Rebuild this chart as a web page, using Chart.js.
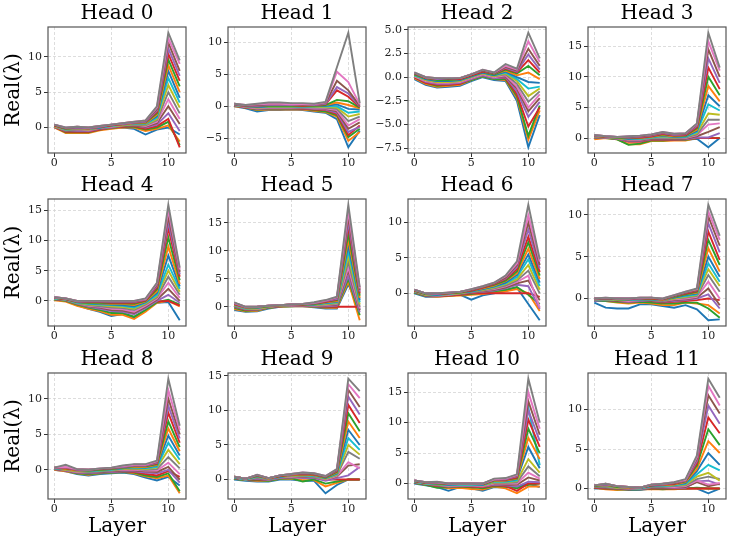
<!DOCTYPE html>
<html>
<head>
<meta charset="utf-8">
<script src="https://cdn.jsdelivr.net/npm/chart.js@4"></script>
<style>
  body { margin: 0; background: #fff; }
  #fig { position: relative; width: 731px; height: 546px; overflow: hidden; background: #fff; }
  #fig canvas { position: absolute; }
</style>
</head>
<body>
<div id="fig"></div>
<script>
'use strict'

// x values (layer index) and tick lists
const layers = [0, 1, 2, 3, 4, 5, 6, 7, 8, 9, 10, 11]
const xTicks = [0, 5, 10]
const headTitles = ['Head 0', 'Head 1', 'Head 2', 'Head 3', 'Head 4', 'Head 5',
  'Head 6', 'Head 7', 'Head 8', 'Head 9', 'Head 10', 'Head 11']
const yTicks = [
  [0, 5, 10], [-5, 0, 5, 10], [-7.5, -5, -2.5, 0, 2.5, 5], [0, 5, 10, 15],
  [0, 5, 10, 15], [0, 5, 10, 15], [0, 5, 10], [0, 5, 10],
  [0, 5, 10], [0, 5, 10, 15], [0, 5, 10, 15], [0, 5, 10]
]
const yTickDigits = [0, 0, 1, 0, 0, 0, 0, 0, 0, 0, 0, 0]

// Real(lambda) per eigenvalue line, one array of 12 layers each
const head0 = [
  [0.0, -0.6, -0.7, -0.6, -0.3, -0.1, 0.0, -0.2, -1.0, -0.3, 0.0, -1.0],
  [0.0, -0.8, -0.8, -0.8, -0.4, -0.2, 0.0, 0.0, -0.5, -0.2, 0.3, -2.0],
  [0.1, -0.7, -0.7, -0.7, -0.3, -0.1, 0.1, 0.1, -0.3, 0.0, 0.8, -2.5],
  [0.1, -0.6, -0.6, -0.6, -0.3, 0.0, 0.1, 0.2, -0.2, 0.2, 1.2, -2.8],
  [0.1, -0.5, -0.5, -0.5, -0.2, 0.0, 0.2, 0.3, 0.0, 0.4, 2.0, -0.5],
  [0.2, -0.5, -0.4, -0.4, -0.2, 0.1, 0.2, 0.3, 0.1, 0.6, 3.0, 0.5],
  [0.2, -0.4, -0.3, -0.4, -0.1, 0.1, 0.3, 0.4, 0.2, 0.8, 4.0, 1.2],
  [0.2, -0.4, -0.3, -0.3, -0.1, 0.2, 0.3, 0.4, 0.3, 1.0, 5.0, 2.0],
  [0.2, -0.3, -0.2, -0.3, 0.0, 0.2, 0.3, 0.5, 0.4, 1.2, 6.0, 2.8],
  [0.3, -0.3, -0.2, -0.2, 0.0, 0.2, 0.4, 0.5, 0.5, 1.4, 7.0, 3.5],
  [0.3, -0.2, -0.1, -0.2, 0.0, 0.3, 0.4, 0.6, 0.6, 1.6, 8.0, 4.2],
  [0.3, -0.2, -0.1, -0.2, 0.1, 0.3, 0.4, 0.6, 0.6, 1.8, 8.8, 5.0],
  [0.3, -0.2, 0.0, -0.1, 0.1, 0.3, 0.5, 0.7, 0.7, 2.0, 9.6, 5.8],
  [0.3, -0.1, 0.0, -0.1, 0.1, 0.3, 0.5, 0.7, 0.8, 2.2, 10.4, 6.6],
  [0.4, -0.1, 0.0, -0.1, 0.1, 0.4, 0.5, 0.7, 0.8, 2.4, 11.2, 7.3],
  [0.4, -0.1, 0.1, 0.0, 0.2, 0.4, 0.6, 0.8, 0.9, 2.6, 12.0, 8.0],
  [0.4, 0.0, 0.1, 0.0, 0.2, 0.4, 0.6, 0.8, 1.0, 2.8, 12.6, 9.0],
  [0.4, 0.0, 0.1, 0.0, 0.2, 0.4, 0.6, 0.8, 1.0, 3.0, 13.4, 9.5]
]
const head1 = [
  [0.0, -0.3, -0.8, -0.6, -0.6, -0.5, -0.6, -0.8, -1.0, -2.0, -6.4, -3.8],
  [0.0, -0.2, -0.6, -0.5, -0.5, -0.5, -0.5, -0.7, -0.9, -1.6, -5.4, -4.0],
  [0.1, -0.2, -0.5, -0.4, -0.4, -0.4, -0.4, -0.6, -0.8, -1.4, -4.8, -3.5],
  [0.1, -0.2, -0.4, -0.3, -0.3, -0.3, -0.4, -0.5, -0.6, -1.2, -4.5, -3.0],
  [0.1, -0.1, -0.4, -0.3, -0.3, -0.3, -0.3, -0.4, -0.5, -1.0, -4.0, -3.2],
  [0.1, -0.1, -0.3, -0.2, -0.2, -0.2, -0.3, -0.3, -0.4, -0.8, -3.5, -2.5],
  [0.2, -0.1, -0.3, -0.2, -0.2, -0.2, -0.2, -0.3, -0.3, -0.6, -3.0, -2.0],
  [0.2, 0.0, -0.2, -0.1, -0.1, -0.1, -0.2, -0.2, -0.2, -0.4, -2.3, -1.6],
  [0.2, 0.0, -0.2, -0.1, -0.1, -0.1, -0.1, -0.1, -0.1, -0.2, -1.6, -1.2],
  [0.2, 0.0, -0.1, 0.0, 0.0, 0.0, -0.1, 0.0, 0.0, 0.0, -1.0, -0.8],
  [0.3, 0.0, -0.1, 0.0, 0.0, 0.0, 0.0, 0.0, 0.1, 0.3, -0.4, -0.5],
  [0.3, 0.0, 0.0, 0.1, 0.1, 0.1, 0.0, 0.1, 0.2, 0.6, 0.2, -0.3],
  [0.3, 0.1, 0.0, 0.1, 0.1, 0.1, 0.1, 0.1, 0.2, 1.0, 0.8, -0.2],
  [0.3, 0.1, 0.1, 0.2, 0.2, 0.2, 0.1, 0.2, 0.3, 2.5, 1.5, -0.1],
  [0.3, 0.1, 0.1, 0.2, 0.2, 0.2, 0.2, 0.2, 0.4, 3.0, 2.0, 0.0],
  [0.4, 0.1, 0.2, 0.3, 0.3, 0.3, 0.2, 0.3, 0.5, 4.0, 2.5, 0.1],
  [0.4, 0.2, 0.3, 0.4, 0.4, 0.3, 0.3, 0.3, 0.6, 5.4, 3.8, 0.3],
  [0.4, 0.2, 0.4, 0.6, 0.6, 0.5, 0.5, 0.4, 0.7, 6.1, 11.5, 0.5]
]
const head2 = [
  [-0.2, -0.8, -1.1, -1.0, -0.9, -0.4, 0.0, -0.3, -0.4, -2.5, -7.4, -4.0],
  [-0.1, -0.7, -1.0, -0.9, -0.8, -0.3, 0.1, -0.2, -0.3, -2.2, -6.6, -3.5],
  [0.0, -0.6, -0.9, -0.8, -0.7, -0.3, 0.1, -0.2, -0.2, -2.0, -6.2, -3.0],
  [0.0, -0.6, -0.8, -0.8, -0.7, -0.2, 0.2, -0.1, -0.1, -1.8, -5.2, -3.2],
  [0.1, -0.5, -0.7, -0.7, -0.6, -0.2, 0.2, -0.1, 0.0, -1.5, -4.2, -2.6],
  [0.1, -0.4, -0.6, -0.6, -0.5, -0.1, 0.3, 0.0, 0.1, -1.2, -3.6, -2.2],
  [0.1, -0.4, -0.6, -0.6, -0.5, -0.1, 0.3, 0.0, 0.2, -1.0, -3.2, -1.8],
  [0.2, -0.3, -0.5, -0.5, -0.4, 0.0, 0.4, 0.1, 0.3, -0.7, -2.6, -1.5],
  [0.2, -0.3, -0.5, -0.5, -0.4, 0.0, 0.4, 0.1, 0.4, -0.4, -2.0, -1.2],
  [0.2, -0.2, -0.4, -0.4, -0.3, 0.1, 0.5, 0.2, 0.5, -0.2, -1.2, -1.0],
  [0.3, -0.2, -0.4, -0.4, -0.3, 0.1, 0.5, 0.2, 0.6, 0.0, -0.5, -0.6],
  [0.3, -0.1, -0.3, -0.3, -0.2, 0.2, 0.6, 0.3, 0.7, 0.2, 0.5, -0.2],
  [0.3, -0.1, -0.3, -0.3, -0.2, 0.2, 0.6, 0.3, 0.8, 0.4, 1.2, 0.2],
  [0.4, -0.1, -0.2, -0.2, -0.2, 0.2, 0.6, 0.4, 0.9, 0.5, 1.8, 0.5],
  [0.4, 0.0, -0.2, -0.2, -0.1, 0.3, 0.7, 0.4, 1.0, 0.6, 2.4, 0.8],
  [0.4, 0.0, -0.1, -0.2, -0.1, 0.3, 0.7, 0.4, 1.1, 0.7, 3.0, 1.2],
  [0.5, 0.0, -0.1, -0.1, -0.1, 0.3, 0.8, 0.5, 1.2, 0.8, 3.8, 1.6],
  [0.5, 0.0, -0.1, -0.1, -0.1, 0.3, 0.8, 0.5, 1.4, 0.9, 4.7, 2.0]
]
const head3 = [
  [0.2, 0.1, -0.1, -0.3, -0.3, -0.2, -0.3, -0.3, -0.3, -0.1, -1.5, 0.0],
  [-0.2, 0.0, -0.2, -1.0, -1.0, -0.5, -0.5, -0.4, -0.4, 0.0, 0.0, 0.0],
  [0.0, 0.0, -0.2, -1.1, -0.9, -0.4, -0.4, -0.3, -0.3, 0.0, 0.0, 0.0],
  [0.1, 0.1, -0.1, -0.6, -0.6, -0.3, -0.3, -0.3, -0.2, 0.0, 0.0, 0.0],
  [0.1, 0.1, -0.1, -0.5, -0.5, -0.2, -0.2, -0.2, -0.2, 0.1, 0.1, 0.8],
  [0.2, 0.1, 0.0, -0.4, -0.4, -0.1, -0.1, -0.1, -0.1, 0.3, 1.0, 1.8],
  [0.2, 0.1, 0.0, -0.3, -0.3, 0.0, 0.0, 0.0, 0.0, 0.5, 2.2, 2.4],
  [0.2, 0.1, 0.0, -0.2, -0.2, 0.0, 0.1, 0.0, 0.1, 0.6, 3.0, 3.0],
  [0.3, 0.2, 0.0, -0.2, -0.1, 0.1, 0.2, 0.1, 0.2, 0.8, 4.0, 3.8],
  [0.3, 0.2, 0.1, -0.1, -0.1, 0.1, 0.3, 0.2, 0.2, 1.0, 5.5, 4.5],
  [0.3, 0.2, 0.1, -0.1, 0.0, 0.2, 0.4, 0.2, 0.3, 1.2, 7.0, 5.2],
  [0.3, 0.2, 0.1, 0.0, 0.0, 0.2, 0.5, 0.3, 0.4, 1.4, 8.5, 6.0],
  [0.4, 0.2, 0.1, 0.0, 0.1, 0.3, 0.6, 0.4, 0.4, 1.6, 10.0, 7.0],
  [0.4, 0.2, 0.2, 0.1, 0.1, 0.3, 0.7, 0.4, 0.5, 1.8, 11.5, 8.0],
  [0.4, 0.3, 0.2, 0.1, 0.2, 0.4, 0.8, 0.5, 0.6, 2.0, 13.0, 9.0],
  [0.5, 0.3, 0.2, 0.2, 0.3, 0.5, 0.9, 0.6, 0.7, 2.2, 14.5, 10.0],
  [0.5, 0.3, 0.2, 0.3, 0.4, 0.6, 1.0, 0.7, 0.8, 2.3, 15.8, 11.0],
  [0.5, 0.3, 0.2, 0.3, 0.4, 0.6, 1.0, 0.7, 0.8, 2.4, 17.2, 11.5]
]
const head4 = [
  [0.2, 0.0, -0.7, -1.3, -1.8, -2.5, -2.2, -2.8, -1.5, -0.3, -0.2, -3.2],
  [0.1, -0.1, -0.8, -1.3, -1.7, -2.3, -2.3, -3.0, -1.8, -0.3, 0.0, -0.9],
  [0.2, 0.0, -0.6, -1.1, -1.5, -2.0, -2.0, -2.6, -1.5, -0.2, 0.2, -0.6],
  [0.3, 0.1, -0.2, -0.2, -0.3, -0.4, -0.6, -0.8, 0.0, -0.1, 0.0, -0.8],
  [0.3, 0.1, -0.5, -1.0, -1.3, -1.7, -1.8, -2.2, -1.2, 0.0, 1.0, -0.3],
  [0.3, 0.1, -0.5, -0.9, -1.1, -1.5, -1.6, -2.0, -1.0, 0.2, 2.0, 0.0],
  [0.4, 0.2, -0.4, -0.8, -1.0, -1.3, -1.4, -1.8, -0.8, 0.4, 3.0, 0.5],
  [0.4, 0.2, -0.4, -0.7, -0.9, -1.1, -1.2, -1.5, -0.6, 0.6, 4.0, 1.0],
  [0.4, 0.2, -0.3, -0.6, -0.7, -0.9, -1.0, -1.3, -0.4, 0.8, 5.0, 1.5],
  [0.4, 0.2, -0.3, -0.5, -0.6, -0.7, -0.8, -1.1, -0.3, 1.0, 6.0, 2.0],
  [0.5, 0.3, -0.2, -0.4, -0.5, -0.6, -0.7, -0.9, -0.2, 1.3, 7.5, 2.4],
  [0.5, 0.3, -0.2, -0.3, -0.4, -0.5, -0.5, -0.7, -0.1, 1.6, 9.0, 2.8],
  [0.5, 0.3, -0.2, -0.3, -0.3, -0.4, -0.4, -0.5, 0.0, 1.9, 10.5, 3.4],
  [0.5, 0.3, -0.1, -0.2, -0.2, -0.3, -0.3, -0.3, 0.1, 2.2, 12.0, 4.0],
  [0.6, 0.4, -0.1, -0.1, -0.1, -0.2, -0.2, -0.2, 0.2, 2.5, 13.0, 4.4],
  [0.6, 0.4, 0.0, -0.1, -0.1, -0.1, -0.1, -0.1, 0.3, 2.7, 14.0, 4.8],
  [0.6, 0.4, 0.0, 0.0, 0.0, 0.0, 0.0, 0.0, 0.3, 2.9, 15.0, 5.2],
  [0.6, 0.4, 0.0, 0.0, 0.0, 0.0, 0.0, 0.0, 0.4, 3.0, 15.9, 5.5]
]
const head5 = [
  [-0.6, -0.9, -0.8, -0.3, 0.0, 0.1, 0.1, -0.1, -0.3, -0.3, 4.0, -0.5],
  [-0.4, -0.8, -0.7, -0.2, 0.0, 0.1, 0.1, 0.0, -0.2, -0.2, 4.5, -2.4],
  [-0.2, -0.7, -0.6, -0.2, 0.1, 0.1, 0.2, 0.0, -0.1, 0.0, 5.0, -1.5],
  [0.0, -0.6, -0.5, -0.1, 0.1, 0.2, 0.2, 0.1, 0.0, 0.0, 0.0, 0.0],
  [0.0, -0.5, -0.5, -0.1, 0.1, 0.2, 0.2, 0.1, 0.1, 0.2, 5.5, -1.0],
  [0.1, -0.5, -0.4, 0.0, 0.1, 0.2, 0.2, 0.2, 0.2, 0.4, 6.5, -0.6],
  [0.2, -0.4, -0.4, 0.0, 0.2, 0.2, 0.3, 0.2, 0.3, 0.5, 7.0, -0.3],
  [0.2, -0.4, -0.3, 0.0, 0.2, 0.3, 0.3, 0.3, 0.4, 0.6, 8.0, 0.0],
  [0.3, -0.3, -0.3, 0.0, 0.2, 0.3, 0.3, 0.3, 0.5, 0.7, 9.0, 0.4],
  [0.3, -0.3, -0.2, 0.1, 0.2, 0.3, 0.3, 0.4, 0.6, 0.8, 10.0, 0.8],
  [0.4, -0.2, -0.2, 0.1, 0.2, 0.3, 0.4, 0.4, 0.7, 0.9, 11.0, 1.2],
  [0.4, -0.2, -0.1, 0.1, 0.2, 0.3, 0.4, 0.5, 0.8, 1.0, 12.0, 1.6],
  [0.5, -0.1, -0.1, 0.1, 0.3, 0.4, 0.4, 0.5, 0.9, 1.2, 13.0, 2.0],
  [0.5, -0.1, 0.0, 0.2, 0.3, 0.4, 0.4, 0.6, 0.9, 1.3, 14.3, 2.4],
  [0.6, -0.1, 0.0, 0.2, 0.3, 0.4, 0.5, 0.6, 1.0, 1.4, 15.0, 2.7],
  [0.7, 0.0, 0.0, 0.2, 0.3, 0.4, 0.5, 0.7, 1.1, 1.6, 16.0, 3.0],
  [0.7, 0.0, 0.0, 0.2, 0.3, 0.4, 0.5, 0.7, 1.1, 1.7, 17.0, 3.3],
  [0.8, 0.0, 0.0, 0.2, 0.3, 0.4, 0.5, 0.8, 1.2, 1.8, 18.2, 3.5]
]
const head6 = [
  [0.0, -0.5, -0.5, -0.3, -0.2, -0.9, -0.3, 0.0, 0.3, 0.8, -1.5, -3.8],
  [0.1, -0.4, -0.5, -0.4, -0.3, -0.2, -0.1, 0.1, 0.3, 0.6, 0.0, -2.5],
  [0.1, -0.4, -0.4, -0.3, -0.2, -0.1, 0.1, 0.3, 0.5, 0.9, -0.2, -1.5],
  [0.2, -0.3, -0.4, -0.3, -0.2, 0.0, 0.0, 0.0, 0.0, 0.0, 0.0, -0.5],
  [0.2, -0.3, -0.4, -0.2, -0.1, 0.1, 0.2, 0.4, 0.7, 1.2, 1.0, -2.2],
  [0.2, -0.3, -0.3, -0.2, -0.1, 0.1, 0.3, 0.5, 0.8, 1.4, 1.8, -1.0],
  [0.3, -0.2, -0.3, -0.2, 0.0, 0.2, 0.4, 0.6, 1.0, 1.6, 2.5, -2.0],
  [0.3, -0.2, -0.3, -0.1, 0.0, 0.2, 0.4, 0.7, 1.1, 1.8, 3.2, 0.0],
  [0.3, -0.2, -0.2, -0.1, 0.0, 0.3, 0.5, 0.8, 1.3, 2.0, 4.0, 0.5],
  [0.3, -0.1, -0.2, -0.1, 0.1, 0.3, 0.6, 0.9, 1.4, 2.3, 4.8, 1.0],
  [0.4, -0.1, -0.2, 0.0, 0.1, 0.3, 0.6, 1.0, 1.5, 2.6, 5.5, 1.5],
  [0.4, -0.1, -0.1, 0.0, 0.1, 0.4, 0.7, 1.1, 1.7, 2.8, 6.3, 2.0],
  [0.4, -0.1, -0.1, 0.0, 0.1, 0.4, 0.8, 1.2, 1.8, 3.1, 7.2, 2.5],
  [0.4, 0.0, -0.1, 0.0, 0.2, 0.4, 0.8, 1.3, 2.0, 3.4, 8.0, 3.0],
  [0.5, 0.0, -0.1, 0.1, 0.2, 0.5, 0.9, 1.4, 2.1, 3.7, 9.0, 3.5],
  [0.5, 0.0, 0.0, 0.1, 0.2, 0.5, 0.9, 1.4, 2.2, 4.0, 10.0, 4.0],
  [0.5, 0.0, 0.0, 0.1, 0.2, 0.6, 1.0, 1.5, 2.4, 4.2, 11.0, 4.5],
  [0.5, 0.0, 0.0, 0.1, 0.2, 0.6, 1.0, 1.5, 2.5, 4.5, 12.5, 4.8]
]
const head7 = [
  [-0.5, -1.1, -1.2, -1.2, -0.7, -0.7, -0.9, -1.1, -0.8, -1.3, -2.6, -2.5],
  [-0.3, -0.3, -0.5, -0.6, -0.5, -0.6, -0.8, -0.8, -0.5, -0.6, -0.8, -1.8],
  [-0.3, -0.3, -0.4, -0.5, -0.4, -0.5, -0.6, -0.6, -0.5, -0.5, -1.2, -2.3],
  [-0.2, -0.2, -0.3, -0.4, -0.3, -0.3, -0.5, -0.4, -0.3, -0.2, 0.0, -0.2],
  [-0.3, -0.2, -0.3, -0.4, -0.3, -0.3, -0.4, -0.3, -0.2, 0.0, 0.5, -1.2],
  [-0.2, -0.2, -0.3, -0.3, -0.2, -0.3, -0.4, -0.2, -0.1, 0.1, 1.2, -0.8],
  [-0.2, -0.1, -0.2, -0.3, -0.2, -0.2, -0.3, -0.1, 0.0, 0.2, 2.0, 0.0],
  [-0.2, -0.1, -0.2, -0.2, -0.2, -0.2, -0.3, 0.0, 0.1, 0.3, 2.8, 0.8],
  [-0.1, -0.1, -0.2, -0.2, -0.1, -0.1, -0.2, 0.0, 0.2, 0.4, 3.5, 1.5],
  [-0.1, -0.1, -0.1, -0.2, -0.1, -0.1, -0.2, 0.1, 0.3, 0.5, 4.2, 2.0],
  [-0.1, 0.0, -0.1, -0.1, -0.1, -0.1, -0.2, 0.1, 0.4, 0.6, 5.0, 2.6],
  [-0.1, 0.0, -0.1, -0.1, 0.0, 0.0, -0.2, 0.2, 0.5, 0.7, 6.0, 3.2],
  [0.0, 0.0, -0.1, -0.1, 0.0, 0.0, -0.1, 0.2, 0.5, 0.8, 7.0, 4.0],
  [0.0, 0.0, 0.0, -0.1, 0.0, 0.0, -0.1, 0.3, 0.6, 0.9, 8.0, 4.6],
  [0.0, 0.0, 0.0, 0.0, 0.0, 0.1, -0.1, 0.3, 0.7, 1.0, 9.0, 5.5],
  [0.0, 0.0, 0.0, 0.0, 0.1, 0.1, -0.1, 0.3, 0.7, 1.0, 9.8, 6.3],
  [0.0, 0.1, 0.0, 0.0, 0.1, 0.1, 0.0, 0.4, 0.8, 1.1, 10.4, 7.0],
  [0.0, 0.1, 0.0, 0.0, 0.1, 0.1, 0.0, 0.4, 0.8, 1.2, 11.2, 7.5]
]
const head8 = [
  [0.0, -0.2, -0.6, -0.8, -0.6, -0.5, -0.4, -0.6, -1.1, -1.5, -1.0, -2.2],
  [0.0, -0.2, -0.5, -0.7, -0.5, -0.4, -0.3, -0.5, -0.9, -1.2, -0.8, -3.3],
  [0.1, -0.1, -0.5, -0.6, -0.5, -0.4, -0.3, -0.4, -0.8, -1.0, -0.5, -3.0],
  [0.1, -0.1, -0.4, -0.5, -0.4, -0.3, -0.2, -0.3, -0.6, -0.8, -0.2, -1.0],
  [0.1, -0.1, -0.4, -0.5, -0.4, -0.3, -0.2, -0.2, -0.4, -0.5, 0.0, -1.8],
  [0.1, 0.0, -0.3, -0.4, -0.3, -0.2, -0.1, -0.1, -0.2, -0.3, 0.4, -1.4],
  [0.2, 0.0, -0.3, -0.3, -0.2, -0.1, 0.0, 0.0, -0.1, -0.1, 1.0, -0.6],
  [0.2, 0.0, -0.2, -0.3, -0.2, -0.1, 0.1, 0.1, 0.0, 0.1, 1.8, 0.2],
  [0.2, 0.0, -0.2, -0.2, -0.1, 0.0, 0.1, 0.2, 0.1, 0.3, 2.8, 0.8],
  [0.2, 0.1, -0.1, -0.2, -0.1, 0.0, 0.2, 0.3, 0.2, 0.4, 3.8, 1.4],
  [0.2, 0.1, -0.1, -0.1, 0.0, 0.1, 0.2, 0.4, 0.3, 0.6, 4.8, 2.0],
  [0.3, 0.1, -0.1, -0.1, 0.0, 0.1, 0.3, 0.4, 0.4, 0.7, 5.8, 2.6],
  [0.3, 0.2, 0.0, -0.1, 0.0, 0.1, 0.3, 0.5, 0.5, 0.8, 6.8, 3.2],
  [0.3, 0.2, 0.0, 0.0, 0.1, 0.2, 0.4, 0.6, 0.6, 0.9, 8.0, 3.8],
  [0.3, 0.3, 0.0, 0.0, 0.1, 0.2, 0.4, 0.6, 0.6, 1.0, 9.0, 4.4],
  [0.3, 0.3, 0.1, 0.0, 0.1, 0.2, 0.5, 0.7, 0.7, 1.1, 10.0, 5.0],
  [0.3, 0.4, 0.1, 0.0, 0.2, 0.3, 0.5, 0.7, 0.7, 1.2, 11.2, 5.6],
  [0.3, 0.7, 0.1, 0.0, 0.2, 0.3, 0.6, 0.8, 0.8, 1.3, 12.8, 6.2]
]
const head9 = [
  [0.0, -0.2, -0.3, -0.3, 0.0, 0.0, -0.2, -0.2, -2.0, -0.8, 0.0, 0.0],
  [0.1, -0.1, -0.2, -0.2, 0.1, 0.1, -0.1, -0.1, -1.0, -0.5, 0.0, 0.0],
  [0.1, -0.1, -0.1, -0.2, 0.1, 0.2, -0.3, 0.0, -0.6, -0.3, 0.0, 0.0],
  [0.2, 0.0, 0.0, -0.1, 0.2, 0.3, 0.3, 0.2, 0.0, 0.0, 0.0, 0.0],
  [0.2, 0.0, 0.1, -0.1, 0.2, 0.3, 0.2, 0.2, -0.2, 0.2, 0.6, 1.8],
  [0.2, 0.0, 0.2, 0.0, 0.3, 0.4, 0.4, 0.3, 0.0, 0.4, 2.0, 2.2],
  [0.3, 0.0, 0.3, 0.0, 0.3, 0.4, 0.5, 0.4, 0.0, 0.5, 2.5, 1.6],
  [0.3, 0.0, 0.3, 0.0, 0.3, 0.5, 0.5, 0.4, 0.1, 0.6, 4.0, 3.0],
  [0.3, 0.0, 0.4, 0.1, 0.4, 0.5, 0.6, 0.5, 0.1, 0.7, 5.0, 3.6],
  [0.3, 0.0, 0.4, 0.1, 0.4, 0.6, 0.6, 0.5, 0.2, 0.8, 6.0, 4.3],
  [0.3, 0.1, 0.5, 0.1, 0.4, 0.6, 0.7, 0.6, 0.2, 0.9, 7.2, 5.0],
  [0.4, 0.1, 0.5, 0.1, 0.5, 0.6, 0.7, 0.6, 0.3, 1.0, 8.4, 6.0],
  [0.4, 0.1, 0.5, 0.2, 0.5, 0.7, 0.8, 0.7, 0.3, 1.1, 9.6, 7.0],
  [0.4, 0.1, 0.6, 0.2, 0.5, 0.7, 0.8, 0.7, 0.4, 1.2, 10.8, 8.2],
  [0.4, 0.1, 0.6, 0.2, 0.6, 0.7, 0.9, 0.8, 0.4, 1.3, 12.0, 9.4],
  [0.4, 0.1, 0.6, 0.2, 0.6, 0.8, 0.9, 0.8, 0.4, 1.4, 13.0, 10.5],
  [0.4, 0.1, 0.7, 0.2, 0.6, 0.8, 1.0, 0.9, 0.5, 1.5, 13.8, 11.8],
  [0.4, 0.1, 0.7, 0.2, 0.6, 0.8, 1.0, 0.9, 0.5, 1.5, 14.6, 12.8]
]
const head10 = [
  [0.0, -0.3, -0.6, -1.2, -0.6, -0.8, -1.2, -0.6, -0.6, -0.6, 0.0, -0.6],
  [0.1, -0.2, -0.5, -0.8, -0.7, -0.9, -1.0, -0.5, -0.8, -1.6, -0.5, -0.5],
  [0.1, -0.2, -0.7, -0.6, -0.5, -0.6, -0.8, -0.4, -0.5, -0.8, -0.2, 0.0],
  [0.2, -0.1, -0.4, -0.5, -0.4, -0.5, -0.6, -0.3, -0.4, -1.2, 0.0, 0.0],
  [0.2, -0.1, -0.3, -0.5, -0.4, -0.4, -0.5, -0.2, -0.3, -0.5, 0.3, 0.2],
  [0.2, -0.1, -0.3, -0.4, -0.3, -0.3, -0.4, -0.1, -0.2, -0.2, 1.0, 0.5],
  [0.3, 0.0, -0.2, -0.4, -0.3, -0.3, -0.4, 0.0, 0.0, 0.0, 1.8, 0.8],
  [0.3, 0.0, -0.2, -0.3, -0.2, -0.2, -0.3, 0.1, 0.1, 0.2, 2.8, 1.2],
  [0.3, 0.0, -0.1, -0.3, -0.2, -0.2, -0.3, 0.2, 0.2, 0.4, 4.0, 1.8],
  [0.3, 0.0, -0.1, -0.2, -0.2, -0.2, -0.2, 0.3, 0.3, 0.5, 12.5, 3.0],
  [0.4, 0.1, 0.0, -0.2, -0.1, -0.1, -0.2, 0.4, 0.4, 0.7, 6.0, 2.5],
  [0.4, 0.1, 0.0, -0.1, -0.1, -0.1, -0.1, 0.4, 0.5, 0.8, 7.5, 4.0],
  [0.4, 0.1, 0.0, -0.1, -0.1, -0.1, -0.1, 0.5, 0.6, 0.9, 9.0, 5.0],
  [0.4, 0.1, 0.1, -0.1, 0.0, 0.0, -0.1, 0.6, 0.6, 1.0, 10.5, 6.0],
  [0.5, 0.2, 0.1, 0.0, 0.0, 0.0, 0.0, 0.6, 0.7, 1.2, 12.0, 7.0],
  [0.5, 0.2, 0.2, 0.0, 0.0, 0.0, 0.0, 0.7, 0.8, 1.3, 13.5, 8.0],
  [0.5, 0.2, 0.2, 0.0, 0.0, 0.0, 0.0, 0.7, 0.8, 1.4, 15.0, 9.0],
  [0.5, 0.2, 0.3, 0.0, 0.0, 0.0, 0.0, 0.8, 0.9, 1.5, 17.2, 10.0]
]
const head11 = [
  [0.0, 0.0, -0.1, -0.2, -0.2, 0.0, 0.0, 0.0, 0.0, 0.0, -0.6, 0.0],
  [0.1, -0.1, -0.2, -0.1, -0.1, -0.1, -0.1, -0.1, 0.0, 0.0, 0.0, 0.0],
  [0.1, 0.0, -0.1, -0.1, -0.1, 0.0, -0.1, 0.0, 0.0, 0.1, 0.0, 0.0],
  [0.1, 0.0, 0.0, -0.1, 0.0, 0.0, 0.0, 0.0, 0.0, 0.0, 0.0, 0.0],
  [0.2, 0.1, 0.0, 0.0, -0.1, 0.1, 0.1, 0.1, 0.1, 0.9, 1.0, 0.5],
  [0.2, 0.1, 0.0, 0.0, 0.0, 0.1, 0.1, 0.2, 0.2, 0.8, 0.3, 0.6],
  [0.2, 0.2, 0.1, 0.0, 0.0, 0.2, 0.2, 0.2, 0.3, 1.0, 0.5, 0.7],
  [0.2, 0.2, 0.1, 0.0, 0.0, 0.2, 0.2, 0.3, 0.4, 1.2, 1.5, 1.2],
  [0.3, 0.3, 0.1, 0.1, 0.0, 0.3, 0.3, 0.4, 0.5, 1.5, 2.0, 1.0],
  [0.3, 0.3, 0.2, 0.1, 0.0, 0.3, 0.3, 0.4, 0.6, 1.8, 3.0, 2.3],
  [0.3, 0.4, 0.2, 0.1, 0.1, 0.3, 0.4, 0.5, 0.7, 2.2, 4.5, 3.0],
  [0.3, 0.4, 0.2, 0.1, 0.1, 0.4, 0.4, 0.5, 0.8, 2.5, 6.0, 4.5],
  [0.3, 0.5, 0.2, 0.2, 0.1, 0.4, 0.5, 0.6, 0.9, 2.9, 7.5, 5.5],
  [0.4, 0.5, 0.3, 0.2, 0.1, 0.4, 0.5, 0.6, 1.0, 3.2, 9.0, 7.0],
  [0.4, 0.5, 0.3, 0.2, 0.1, 0.5, 0.5, 0.7, 1.0, 3.5, 10.5, 8.2],
  [0.4, 0.6, 0.3, 0.2, 0.1, 0.5, 0.6, 0.7, 1.1, 3.8, 11.8, 9.5],
  [0.4, 0.6, 0.3, 0.2, 0.1, 0.5, 0.6, 0.8, 1.1, 4.0, 13.0, 10.5],
  [0.4, 0.6, 0.3, 0.2, 0.1, 0.5, 0.6, 0.8, 1.2, 4.2, 13.9, 11.5]
]
const heads = [head0, head1, head2, head3, head4, head5, head6, head7, head8, head9, head10, head11]

// look
const tab10 = ['#1f77b4', '#ff7f0e', '#2ca02c', '#d62728', '#9467bd',
  '#8c564b', '#e377c2', '#7f7f7f', '#bcbd22', '#17becf']
const serif = 'DejaVu Serif'

// axes boxes on the page (pixels)
const colLeft = [48, 228, 408, 588]
const rowTop = [27, 199, 373]
const rowBottom = [153, 326, 499]
const plotW = 138
const yAxisW = 48
const titleH = 30
const figH = 546

const fmtTick = (v, digits) => v.toFixed(digits).replace('-', '\u2212')

const boxPlugin = {
    id: 'box',
    afterDraw: (chart) => {
        const { ctx, chartArea: a } = chart
        ctx.save()
        ctx.strokeStyle = '#555'
        ctx.lineWidth = 1.2
        ctx.strokeRect(a.left, a.top, a.right - a.left, a.bottom - a.top)
        ctx.restore()
    }
}

const fig = document.getElementById('fig')

heads.forEach((lines, i) => {
    const r = Math.floor(i / 4)
    const c = i % 4
    const left = c === 0
    const bottom = r === 2
    const xH = bottom ? figH - rowBottom[r] : 22
    const w = yAxisW + plotW + 6
    const h = titleH + (rowBottom[r] - rowTop[r]) + xH

    const canvas = document.createElement('canvas')
    canvas.width = w
    canvas.height = h
    canvas.style.left = (colLeft[c] - yAxisW) + 'px'
    canvas.style.top = (rowTop[r] - titleH) + 'px'
    canvas.style.width = w + 'px'
    canvas.style.height = h + 'px'
    fig.appendChild(canvas)

    const all = lines.flat()
    const lo = Math.min(...all)
    const hi = Math.max(...all)
    const pad = (hi - lo) * 0.05

    const grid = { color: '#d4d4d4', lineWidth: 0.8, tickLength: 4, tickColor: '#333', tickWidth: 1 }
    const tickFont = { family: serif, size: 11 }

    new Chart(canvas, {
        type: 'line',
        data: {
            datasets: lines.map((vals, k) => ({
                data: vals.map((v, j) => ({ x: layers[j], y: v })),
                borderColor: tab10[k % 10],
                borderWidth: 1.9,
                pointRadius: 0,
                tension: 0,
                fill: false,
                order: -k
            }))
        },
        options: {
            responsive: false,
            animation: false,
            devicePixelRatio: 1,
            layout: { padding: { left: 0, right: 6, top: 0, bottom: 0 } },
            plugins: {
                legend: { display: false },
                tooltip: { enabled: false },
                title: {
                    display: true,
                    fullSize: false,
                    align: 'center',
                    text: headTitles[i],
                    color: '#000',
                    font: { family: serif, size: 20, weight: 'normal', lineHeight: 1.2 },
                    padding: { top: 5, bottom: 1 }
                }
            },
            scales: {
                x: {
                    type: 'linear',
                    min: -0.55,
                    max: 11.55,
                    afterBuildTicks: (s) => { s.ticks = xTicks.map((v) => ({ value: v })) },
                    afterFit: (s) => { s.height = xH },
                    grid: grid,
                    border: { display: false, dash: [3, 2] },
                    ticks: { font: tickFont, color: '#222', padding: 0, maxRotation: 0, autoSkip: false },
                    title: {
                        display: bottom,
                        text: 'Layer',
                        color: '#000',
                        font: { family: serif, size: 20, lineHeight: 1.2 },
                        padding: { top: 0, bottom: 7 }
                    }
                },
                y: {
                    type: 'linear',
                    min: lo - pad,
                    max: hi + pad,
                    afterBuildTicks: (s) => { s.ticks = yTicks[i].map((v) => ({ value: v })) },
                    afterFit: (s) => { s.width = yAxisW },
                    grid: grid,
                    border: { display: false, dash: [3, 2] },
                    ticks: {
                        font: tickFont,
                        color: '#222',
                        padding: 2,
                        callback: (v) => fmtTick(v, yTickDigits[i])
                    },
                    title: {
                        display: left,
                        text: 'Real(λ)',
                        color: '#000',
                        font: { family: serif, size: 20, lineHeight: 1.2 },
                        padding: { top: 2, bottom: 0 }
                    }
                }
            }
        },
        plugins: [boxPlugin]
    })
})
</script>
</body>
</html>
